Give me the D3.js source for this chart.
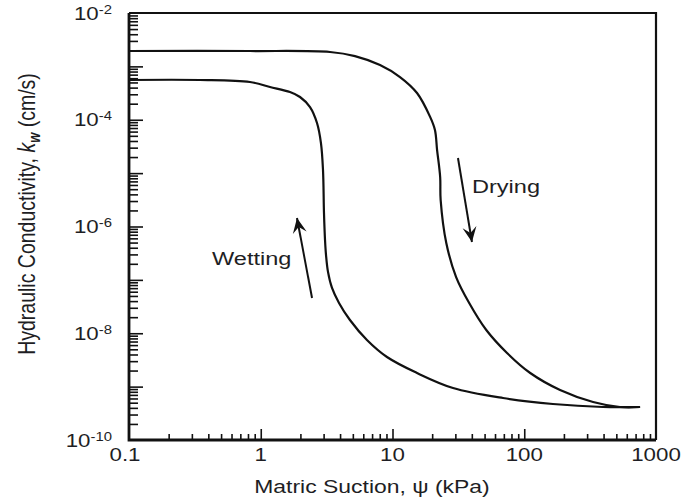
<!DOCTYPE html>
<html>
<head>
<meta charset="utf-8">
<script src="https://cdn.jsdelivr.net/npm/d3@7"></script>
<style>
  html, body { margin: 0; padding: 0; background: #ffffff; }
  svg { display: block; }
  text { font-family: 'Liberation Sans', Arial, Helvetica, sans-serif; fill: #1e1e24; }
</style>
</head>
<body>
<svg id="chart" width="699" height="502"></svg>
<script>
// Matric suction (kPa) and hydraulic conductivity (cm/s)
const wettingSuction = [0.1, 0.346, 0.828, 1.175, 1.667, 1.986, 2.366, 2.673, 2.864, 2.968, 3.02, 3.075,
    3.129, 3.239, 3.474, 3.926, 4.753, 6.397, 9.08, 15.35, 28.8, 69.0, 165, 396, 757];
const wettingK = [5.56e-4, 5.56e-4, 5.09e-4, 4.11e-4, 3.31e-4, 2.67e-4, 1.73e-4, 8.69e-5, 3.66e-5, 1.15e-5, 1.79e-6, 5.58e-7,
    2.92e-7, 1.41e-7, 7.05e-8, 3.69e-8, 1.77e-8, 7.48e-9, 3.59e-9, 1.80e-9, 9.42e-10, 6.12e-10, 4.72e-10, 4.15e-10, 4.15e-10];

const dryingSuction = [0.1, 0.828, 3.357, 5.19, 8.04, 11.4, 15.35, 19.3, 21.0, 21.8, 23.0, 23.2,
    25.6, 30.4, 38.2, 51.5, 74.0, 111, 187, 333, 533, 757];
const dryingK = [1.94e-3, 1.94e-3, 1.86e-3, 1.56e-3, 1.06e-3, 6.32e-4, 3.17e-4, 1.13e-4, 6.43e-5, 2.71e-5, 8.45e-6, 3.14e-6,
    4.91e-7, 1.13e-7, 3.69e-8, 1.15e-8, 4.27e-9, 1.80e-9, 8.65e-10, 5.15e-10, 4.15e-10, 4.15e-10];

// tick labels
const xTickLabels = ['0.1', '1', '10', '100', '1000'];
const yTickExponents = [-10, -8, -6, -4, -2];

// annotation arrows [tail, tip] in data units, and label anchors
const dryingArrow = [[31.4, 1.92e-5], [40.1, 5.13e-7]];
const wettingArrow = [[2.45, 4.57e-8], [1.884, 1.44e-6]];
const dryingLabel = [40.1, 4.25e-6];
const wettingLabel = [0.427, 1.90e-7];

const svg = d3.select('#chart');
const plot = { left: 129, right: 656, top: 13, bottom: 440 };
const sx = 1.24; // the source figure is stretched horizontally

const x = d3.scaleLog().domain([0.1, 1000]).range([plot.left, plot.right]);
const y = d3.scaleLog().domain([1e-10, 1e-2]).range([plot.bottom, plot.top]);

// tick values
const minorX = [];
d3.range(-1, 3).forEach(d => { for (let m = 2; m <= 9; m++) minorX.push(m * Math.pow(10, d)); });
const majorX = [1, 10, 100];

const minorY = [];
d3.range(-10, -2).forEach(d => { for (let m = 2; m <= 9; m++) minorY.push(m * Math.pow(10, d)); });
const majorY = d3.range(-9, -2).map(e => Math.pow(10, e));

function tickAxis(axis, g) {
    g.call(axis);
    g.select('.domain').remove();
    g.selectAll('.tick line').attr('stroke', '#111').attr('stroke-width', 1.6);
}

// x ticks point upward into the plot
tickAxis(d3.axisBottom(x).tickValues(minorX).tickSize(-6).tickFormat(''),
    svg.append('g').attr('transform', `translate(0,${plot.bottom})`));
tickAxis(d3.axisBottom(x).tickValues(majorX).tickSize(-11).tickFormat(''),
    svg.append('g').attr('transform', `translate(0,${plot.bottom})`));

// y ticks point right into the plot
tickAxis(d3.axisRight(y).tickValues(minorY).tickSize(9).tickFormat(''),
    svg.append('g').attr('transform', `translate(${plot.left},0)`));
tickAxis(d3.axisRight(y).tickValues(majorY).tickSize(14).tickFormat(''),
    svg.append('g').attr('transform', `translate(${plot.left},0)`));

// frame
svg.append('path')
    .attr('d', `M${plot.left},${plot.top}H${plot.right}V${plot.bottom}`)
    .attr('fill', 'none').attr('stroke', '#111').attr('stroke-width', 2.2);
svg.append('path')
    .attr('d', `M${plot.left},${plot.top}V${plot.bottom}H${plot.right}`)
    .attr('fill', 'none').attr('stroke', '#111').attr('stroke-width', 2.8);

// curves
const line = d3.line()
    .x(d => x(d[0]))
    .y(d => y(d[1]))
    .curve(d3.curveCatmullRom.alpha(0.5));

const curves = [
    d3.zip(wettingSuction, wettingK),
    d3.zip(dryingSuction, dryingK)
];
svg.append('g').selectAll('path')
    .data(curves)
    .join('path')
    .attr('d', line)
    .attr('fill', 'none')
    .attr('stroke', '#111')
    .attr('stroke-width', 2.2);

// arrows
svg.append('defs').append('marker')
    .attr('id', 'head')
    .attr('markerUnits', 'userSpaceOnUse')
    .attr('markerWidth', 20).attr('markerHeight', 20)
    .attr('refX', 0).attr('refY', 0)
    .attr('viewBox', '-18 -10 20 20')
    .attr('orient', 'auto')
    .append('path')
    .attr('d', 'M0,0 L-15,-7 L-9,0 L-15,7 Z')
    .attr('fill', '#111');

svg.append('g').selectAll('line')
    .data([dryingArrow, wettingArrow])
    .join('line')
    .attr('x1', d => x(d[0][0])).attr('y1', d => y(d[0][1]))
    .attr('x2', d => x(d[1][0])).attr('y2', d => y(d[1][1]))
    .attr('stroke', '#111')
    .attr('stroke-width', 2)
    .attr('marker-end', 'url(#head)');

// text helper: stretched horizontally like the source
function label(px, py, size, anchor) {
    return svg.append('g')
        .attr('transform', `translate(${px},${py}) scale(${sx},1)`)
        .append('text')
        .attr('text-anchor', anchor)
        .attr('font-size', size);
}

label(x(dryingLabel[0]), y(dryingLabel[1]), 19, 'start').text('Drying');
label(x(wettingLabel[0]), y(wettingLabel[1]), 19, 'start').text('Wetting');

// x tick labels
xTickLabels.forEach(t => {
    const px = x(+t) - (t === '0.1' ? 4 : 0);
    label(px, 461, 18, 'middle').text(t);
});

// y tick labels: 10 with superscript exponent
yTickExponents.forEach(e => {
    const t = label(112, y(Math.pow(10, e)) + 6.5, 18, 'end');
    t.append('tspan').text('10');
    t.append('tspan').attr('font-size', 12).attr('dy', -6).text(String(e));
});

// axis titles
label(372, 493, 18.5, 'middle').text('Matric Suction, \u03C8 (kPa)');

const yTitle = svg.append('g')
    .attr('transform', `translate(27,214) scale(${sx},1) rotate(-90)`)
    .append('text')
    .attr('text-anchor', 'middle')
    .attr('y', 6.5)
    .attr('font-size', 19.5);
yTitle.append('tspan').text('Hydraulic Conductivity, ');
yTitle.append('tspan').attr('font-style', 'italic').text('k');
yTitle.append('tspan').attr('font-style', 'italic').attr('font-weight', 'bold')
    .attr('font-size', 13).attr('dy', 4).text('w');
yTitle.append('tspan').attr('dy', -4).text(' (cm/s)');
</script>
</body>
</html>
